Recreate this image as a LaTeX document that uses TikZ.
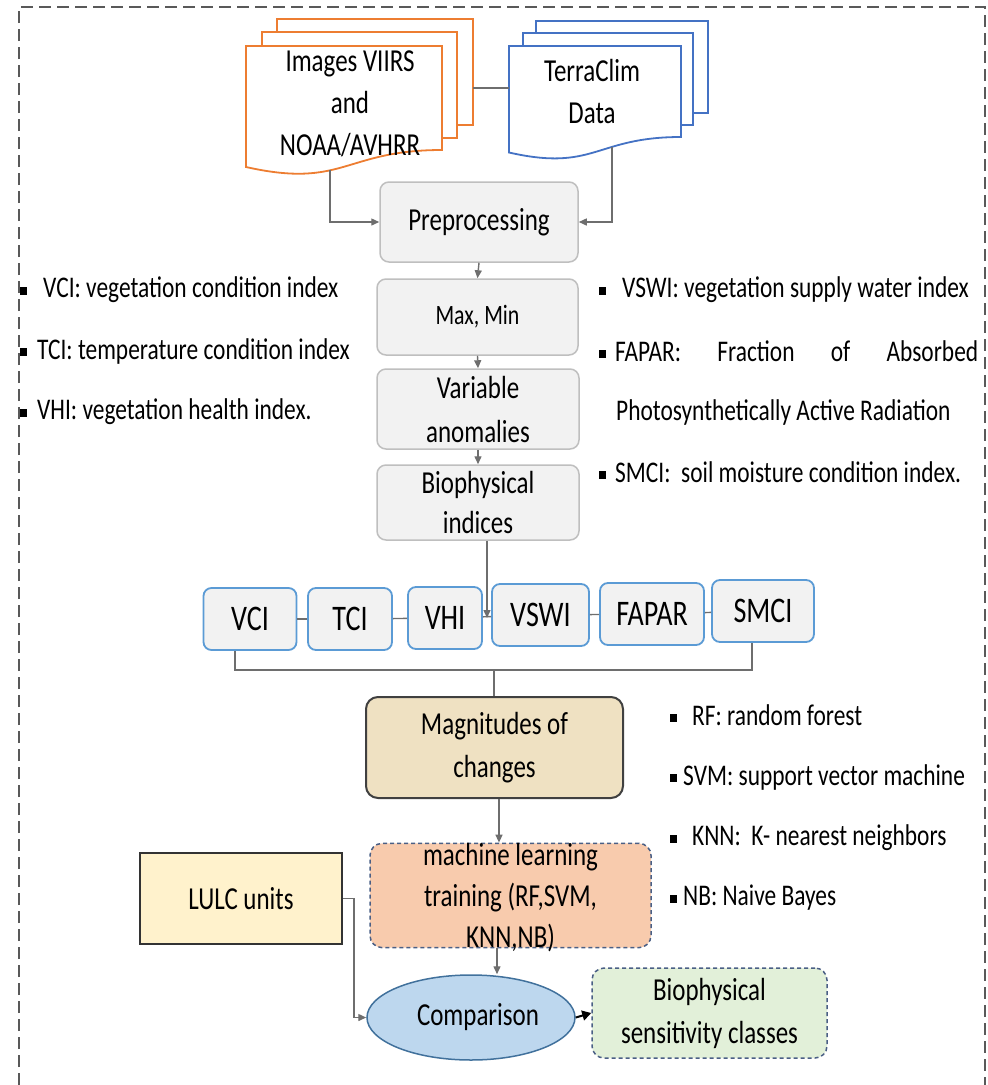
\documentclass[tikz,border=0pt]{standalone}
\usepackage{fontspec}
\setmainfont{Carlito}[FakeStretch=0.78]
\usetikzlibrary{arrows.meta,shapes.geometric}
\definecolor{orng}{HTML}{ED7D31}
\definecolor{dblue}{HTML}{4472C4}
\definecolor{conng}{HTML}{6E6E6E}
\definecolor{boxg}{HTML}{BFBFBF}
\definecolor{fillg}{HTML}{F2F2F2}
\definecolor{idxb}{HTML}{5B9BD5}
\definecolor{mlfill}{HTML}{F8CBAD}
\definecolor{dashb}{HTML}{4A5F85}
\definecolor{lulcf}{HTML}{FFF2CC}
\definecolor{compf}{HTML}{BDD7EE}
\definecolor{compd}{HTML}{41719C}
\definecolor{bscf}{HTML}{E2F0D9}
\definecolor{magf}{HTML}{EFE1C2}
\definecolor{borderg}{HTML}{595959}
\newcommand{\sqb}{\raisebox{3pt}{\rule{7pt}{8pt}}}
\begin{document}
\begin{tikzpicture}[x=1pt,y=-1pt,
  conn/.style={draw=conng,line width=1.4pt},
  arr/.style={conn,-{Triangle[length=8pt,width=7pt]}},
  graybox/.style={draw=boxg,fill=fillg,line width=1.5pt,rounded corners=9pt,inner sep=0pt,align=center,font=\fontsize{32}{42}\selectfont},
  idxbox/.style={draw=idxb,fill=fillg,line width=1.8pt,rounded corners=8pt,inner sep=0pt,minimum height=62pt,font=\fontsize{36}{40}\selectfont},
  lbl/.style={anchor=west,inner sep=0pt,font=\fontsize{30}{34}\selectfont},
  doctext/.style={align=center,inner sep=0pt,font=\fontsize{32}{42}\selectfont},
  docline/.style={line width=1.8pt,fill=white},
]
\useasboundingbox (0,0) rectangle (988,1085);
% outer dashed frame
\draw[draw=borderg,line width=1.4pt,dash pattern=on 12pt off 6pt] (19,1085) -- (19,7) -- (985,7) -- (985,1085);

% orange multi-document
\draw[docline,draw=orng] (277,19) rectangle (473,125);
\draw[docline,draw=orng] (262,32) rectangle (457,138);
\draw[docline,draw=orng] (246,46) -- (442,46) -- (442,150) .. controls (344,150) and (344,189) .. (246,167) -- cycle;
\node[doctext] (imgs) at (350,104) {Images VIIRS\\and\\NOAA/AVHRR};

% blue multi-document
\draw[docline,draw=dblue] (536,21) rectangle (708,113);
\draw[docline,draw=dblue] (523,33) rectangle (693,125);
\draw[docline,draw=dblue] (509,46) -- (681,46) -- (681,137) .. controls (595,137) and (595,172) .. (509,152.5) -- cycle;
\node[doctext] (terra) at (592,92) {TerraClim\\Data};

\coordinate (imgsR) at (473,88);
\coordinate (terraL) at (509,88);
\coordinate (imgsbot) at (330,170);
\coordinate (terrabot) at (612,147);
\draw[conn] (imgsR) -- (terraL);

% main column
\node[graybox,minimum width=198pt,minimum height=80pt] (pre) at (479,222) {Preprocessing};
\node[graybox,minimum width=201pt,minimum height=76pt,font=\fontsize{28}{32}\selectfont] (mm) at (477.5,317) {Max, Min};
\node[graybox,minimum width=202pt,minimum height=80pt,font=\fontsize{32}{44}\selectfont] (var) at (478,409) {Variable\\anomalies};
\node[graybox,minimum width=202pt,minimum height=75pt,font=\fontsize{32}{40}\selectfont] (bio) at (478,502.5) {Biophysical\\indices};

\draw[arr] (imgsbot) |- (pre.west);
\draw[arr] (terrabot) |- (pre.east);
\draw[arr] (pre.south) -- (mm.north);
\draw[arr] (mm.south) -- (var.north);
\draw[arr] (var.south) -- (bio.north);

% index row
\node[idxbox,minimum width=93pt] (vci) at (250,619) {VCI};
\node[idxbox,minimum width=84pt] (tci) at (350,619) {TCI};
\node[idxbox,minimum width=74pt] (vhi) at (445,618) {VHI};
\node[idxbox,minimum width=97pt] (vswi) at (540.5,615) {VSWI};
\node[idxbox,minimum width=104pt] (fapar) at (652,614) {FAPAR};
\node[idxbox,minimum width=102pt] (smci) at (763,611) {SMCI};
\draw[conn] (vci) -- (tci);
\draw[conn] (tci) -- (vhi);
\draw[conn] (vhi) -- (vswi);
\draw[conn] (vswi) -- (fapar);
\draw[conn] (fapar) -- (smci);

\coordinate (rowin) at (487,618);
\draw[arr] (bio.south -| rowin) -- (rowin);

% bracket
\coordinate (brk) at (494,670);
\coordinate (vleg) at (235,0);
\coordinate (sleg) at (752,0);
\draw[conn] (vci.south -| vleg) |- (brk) -| (smci.south -| sleg);

% magnitudes
\node[draw=black!75,fill=magf,line width=2pt,rounded corners=12pt,inner sep=0pt,align=center,minimum width=257pt,minimum height=101pt,font=\fontsize{32}{43}\selectfont] (mag) at (494.5,747.5) {Magnitudes of\\changes};
\draw[conn] (brk) -- (brk |- mag.north);

% ML
\node[draw=dashb,fill=mlfill,line width=1.5pt,dash pattern=on 4pt off 3pt,rounded corners=12pt,inner sep=0pt,align=center,minimum width=281pt,minimum height=101pt,font=\fontsize{32}{41}\selectfont,text depth=0pt] (ml) at (510.5,895.5) {machine learning\\training (RF,SVM,\\KNN,NB)};
\coordinate (c499) at (499,0);
\coordinate (c497) at (497,0);
\draw[arr] (mag.south -| c499) -- (ml.north -| c499);

% LULC
\node[draw=black!80,fill=lulcf,line width=2pt,inner sep=0pt,minimum width=202pt,minimum height=91pt,font=\fontsize{32}{36}\selectfont] (lulc) at (241,898.5) {LULC units};

% comparison
\node[ellipse,draw=compd,fill=compf,line width=1.5pt,inner sep=0pt,minimum width=208pt,minimum height=85pt,font=\fontsize{32}{36}\selectfont] (comp) at (471,1017.5) {\hspace*{14pt}Comparison};
\draw[arr] (ml.south -| c497) -- (comp.north -| c497);
\draw[arr] (lulc.east) -- ++(11,0) |- (comp.west);

% result
\node[draw=dashb,fill=bscf,line width=1.5pt,dash pattern=on 4pt off 3pt,rounded corners=12pt,inner sep=0pt,align=center,minimum width=235pt,minimum height=90pt,font=\fontsize{32}{43}\selectfont] (bsc) at (709.5,1013) {Biophysical\\sensitivity classes};
\draw[black,line width=2pt,-{Triangle[length=9pt,width=10pt]}] (comp.east) -- (bsc.west);

% left bullet list
\node[lbl] (bl1) at (20,290) {\sqb\hspace{16pt}VCI: vegetation condition index};
\node[lbl] (bl2) at (20,351) {\sqb\hspace{10pt}TCI: temperature condition index};
\node[lbl] (bl3) at (20,412) {\sqb\hspace{10pt}VHI: vegetation health index.};

% right bullet list
\node[lbl] (br1) at (599,290) {\sqb\hspace{16pt}VSWI: vegetation supply water index};
\node[lbl] (br2) at (599,351) {\sqb\hspace{9pt}\makebox[363pt][s]{FAPAR: Fraction of Absorbed}};
\node[lbl] (br3) at (616,412) {Photosynthetically Active Radiation};
\node[lbl] (br4) at (599,472) {\sqb\hspace{9pt}SMCI:\ \ soil moisture condition index.};

\node[lbl] (ml1) at (670,715) {\sqb\hspace{15pt}RF: random forest};
\node[lbl] (ml2) at (670,777) {\sqb\hspace{6pt}SVM: support vector machine};
\node[lbl] (ml3) at (670,838) {\sqb\hspace{15pt}KNN:\ \ K- nearest neighbors};
\node[lbl] (ml4) at (670,898) {\sqb\hspace{6pt}NB: Naive Bayes};
\end{tikzpicture}
\end{document}
